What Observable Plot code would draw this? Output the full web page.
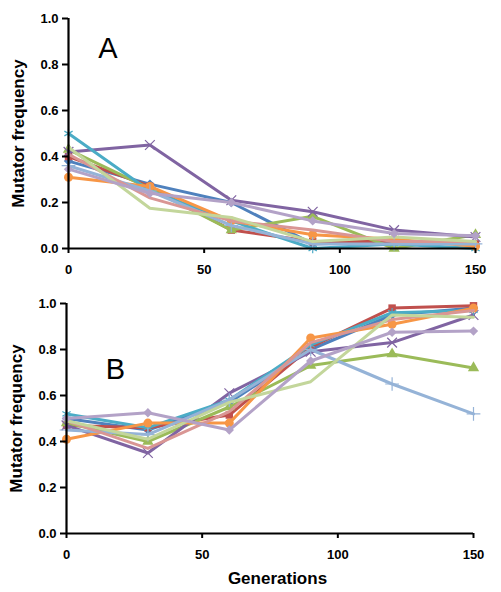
<!DOCTYPE html>
<html>
<head>
<meta charset="utf-8">
<script src="https://cdn.jsdelivr.net/npm/d3@7"></script>
<script src="https://cdn.jsdelivr.net/npm/@observablehq/plot@0.6"></script>
<style>
  body { margin: 0; background: #fff; }
  #chart { width: 501px; height: 592px; position: relative; font-family: "Liberation Sans", Arial, sans-serif; }
  #xlabel { position: absolute; left: 0; top: 569px; width: 501px; text-align: center; padding-left: 54px; box-sizing: border-box;
            font-weight: bold; font-size: 17px; color: #000; }
</style>
</head>
<body>
<div id="chart"></div>
<script>
const generations = [0, 30, 60, 90, 120, 150];
const seriesColors = ["#4F81BD", "#C0504D", "#9BBB59", "#8064A2", "#4BACC6", "#F79646", "#95B3D7", "#D99694", "#C3D69B", "#B3A2C7"];
const seriesSymbols = ["diamond2", "square", "triangle", "times", "asterisk", "circle", "plus", null, null, "diamond2"];
const yTicks = [0, 0.2, 0.4, 0.6, 0.8, 1.0];
const xTicks = [0, 50, 100, 150];
const yLabel = "Mutator frequency";
const xLabel = "Generations";

// Panel A
const a1  = [0.38, 0.28, 0.20, 0.02, 0.03, 0.02];
const a2  = [0.40, 0.27, 0.08, 0.03, 0.03, 0.02];
const a3  = [0.43, 0.26, 0.08, 0.14, 0.00, 0.06];
const a4  = [0.42, 0.45, 0.21, 0.16, 0.08, 0.05];
const a5  = [0.50, 0.25, 0.12, 0.00, 0.02, 0.00];
const a6  = [0.31, 0.27, 0.12, 0.06, 0.04, 0.01];
const a7  = [0.36, 0.25, 0.10, 0.02, 0.02, 0.02];
const a8  = [0.41, 0.22, 0.12, 0.08, 0.03, 0.03];
const a9  = [0.44, 0.175, 0.135, 0.03, 0.05, 0.03];
const a10 = [0.345, 0.24, 0.20, 0.12, 0.065, 0.055];

// Panel B
const b1  = [0.50, 0.45, 0.57, 0.80, 0.95, 0.98];
const b2  = [0.47, 0.46, 0.515, 0.81, 0.98, 0.99];
const b3  = [0.48, 0.40, 0.55, 0.73, 0.78, 0.72];
const b4  = [0.47, 0.35, 0.61, 0.79, 0.83, 0.95];
const b5  = [0.52, 0.46, 0.58, 0.82, 0.96, 0.97];
const b6  = [0.41, 0.48, 0.48, 0.85, 0.91, 0.98];
const b7  = [0.45, 0.43, 0.58, 0.80, 0.65, 0.52];
const b8  = [0.49, 0.37, 0.53, 0.83, 0.93, 0.97];
const b9  = [0.49, 0.41, 0.57, 0.66, 0.95, 0.94];
const b10 = [0.50, 0.525, 0.45, 0.75, 0.875, 0.88];

const panelLetters = [{g: 14.5, v: 0.87, t: "A"}, {g: 18, v: 0.71, t: "B"}];

function makePanel(series, letter, marginLeft, marginRight, xPad) {
  const marks = [];
  series.forEach((vals, i) => {
    const data = generations.map((g, j) => ({g, v: vals[j]}));
    marks.push(Plot.line(data, {x: "g", y: "v", stroke: seriesColors[i], strokeWidth: 3, strokeLinejoin: "round"}));
    const sym = seriesSymbols[i];
    if (sym) {
      const stroked = sym === "times" || sym === "plus" || sym === "asterisk";
      marks.push(Plot.dot(data, stroked
        ? {x: "g", y: "v", symbol: () => sym, r: 4.5, stroke: seriesColors[i], strokeWidth: 1.2, fill: "none"}
        : {x: "g", y: "v", symbol: () => sym, r: sym === "circle" ? 4.5 : 4.2, fill: seriesColors[i], stroke: "none"}));
    }
  });
  marks.push(Plot.ruleX([0], {stroke: "#000", strokeWidth: 2.2}));
  marks.push(Plot.ruleY([0], {stroke: "#000", strokeWidth: 2.2}));
  marks.push(Plot.axisY({ticks: yTicks, tickFormat: d3.format(".1f"), tickSize: 6, tickPadding: 4, strokeWidth: 2, label: null, fontWeight: "bold"}));
  marks.push(Plot.axisX({ticks: xTicks, tickFormat: d3.format("d"), tickSize: 5, tickPadding: xPad, strokeWidth: 2, label: null, fontWeight: "bold"}));
  marks.push(Plot.text([yLabel], {frameAnchor: "left", dx: -50, rotate: -90, textAnchor: "middle", text: d => d, fontSize: 17, fontWeight: "bold", fill: "#000"}));
  marks.push(Plot.text([letter], {x: "g", y: "v", text: "t", fontSize: 29, fill: "#000"}));
  return Plot.plot({
    width: 501, height: 285,
    marginTop: 18, marginBottom: 37, marginLeft, marginRight,
    x: {domain: [0, 150]},
    y: {domain: [0, 1]},
    style: {fontFamily: "'Liberation Sans', Arial, sans-serif", fontSize: "13px", color: "#000", background: "transparent", overflow: "visible"},
    marks
  });
}

const chart = document.getElementById("chart");
const pA = makePanel([a1, a2, a3, a4, a5, a6, a7, a8, a9, a10], panelLetters[0], 68, 26, 11);
const pB = makePanel([b1, b2, b3, b4, b5, b6, b7, b8, b9, b10], panelLetters[1], 66, 28, 11);
pA.style.position = "absolute"; pA.style.left = "0px"; pA.style.top = "0px";
pB.style.position = "absolute"; pB.style.left = "0px"; pB.style.top = "285px";
chart.appendChild(pA);
chart.appendChild(pB);
const xl = document.createElement("div");
xl.id = "xlabel";
xl.textContent = xLabel;
chart.appendChild(xl);
</script>
</body>
</html>
